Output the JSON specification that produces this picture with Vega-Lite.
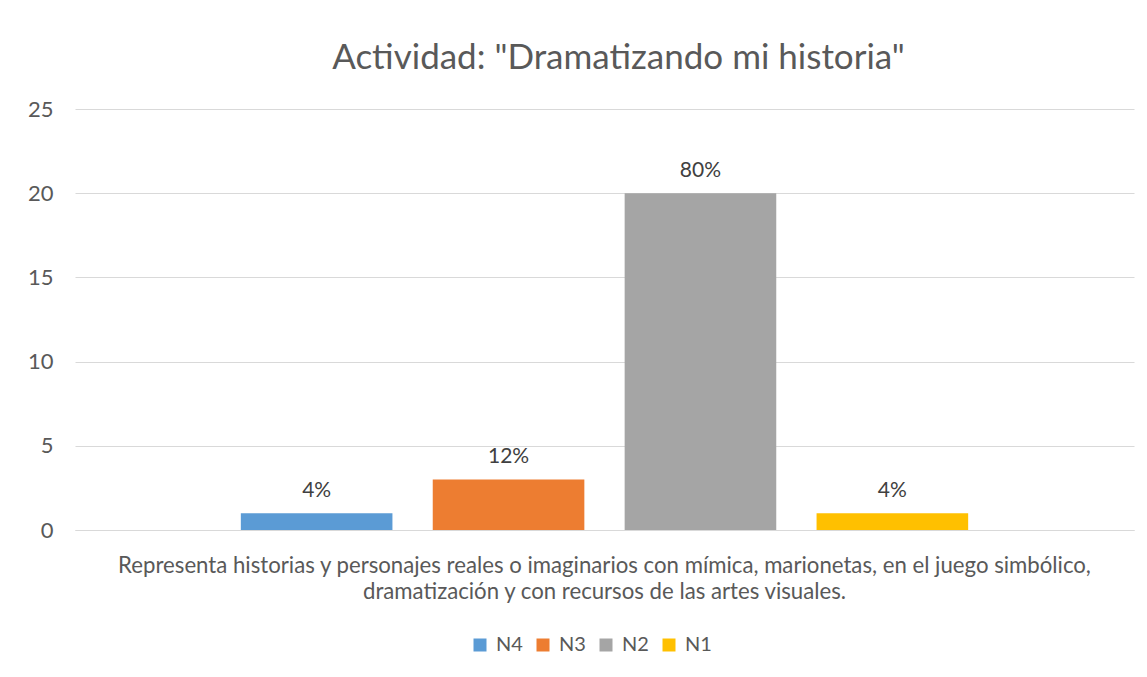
{
  "$schema": "https://vega.github.io/schema/vega-lite/v6.json",
  "autosize": {"type": "none"},
  "width": 1059,
  "height": 421,
  "padding": {"left": 75, "top": 109, "right": 13, "bottom": 147},
  "background": "white",
  "config": {
    "font": "Lato",
    "view": {"stroke": null}
  },
  "title": {
    "text": "Actividad: \"Dramatizando mi historia\"",
    "fontSize": 35,
    "font": "Lato",
    "fontWeight": "normal",
    "color": "#595959",
    "anchor": "middle",
    "dx": 14,
    "offset": 22
  },
  "data": {
    "values": [
      {"criterio": "Representa historias y personajes reales o imaginarios con mímica, marionetas, en el juego simbólico,\ndramatización y con recursos de las artes visuales.", "nivel": "N4", "cantidad": 1, "porcentaje": "4%"},
      {"criterio": "Representa historias y personajes reales o imaginarios con mímica, marionetas, en el juego simbólico,\ndramatización y con recursos de las artes visuales.", "nivel": "N3", "cantidad": 3, "porcentaje": "12%"},
      {"criterio": "Representa historias y personajes reales o imaginarios con mímica, marionetas, en el juego simbólico,\ndramatización y con recursos de las artes visuales.", "nivel": "N2", "cantidad": 20, "porcentaje": "80%"},
      {"criterio": "Representa historias y personajes reales o imaginarios con mímica, marionetas, en el juego simbólico,\ndramatización y con recursos de las artes visuales.", "nivel": "N1", "cantidad": 1, "porcentaje": "4%"}
    ]
  },
  "encoding": {
    "x": {
      "field": "criterio",
      "type": "nominal",
      "scale": {"paddingInner": 0, "paddingOuter": 0.228},
      "axis": {
        "title": null,
        "labelAngle": 0,
        "labelLimit": 0,
        "labelExpr": "split(datum.label, '\\n')",
        "labelFontSize": 22.2,
        "labelColor": "#595959",
        "labelPadding": 24,
        "labelLineHeight": 26,
        "ticks": false,
        "domainColor": "#d9d9d9",
        "domainWidth": 1
      }
    },
    "xOffset": {
      "field": "nivel",
      "type": "nominal",
      "sort": ["N4", "N3", "N2", "N1"],
      "scale": {"paddingInner": 0.21, "paddingOuter": 0}
    },
    "y": {
      "field": "cantidad",
      "type": "quantitative",
      "scale": {"domain": [0, 25]},
      "axis": {
        "title": null,
        "values": [0, 5, 10, 15, 20, 25],
        "labelFontSize": 22,
        "labelColor": "#595959",
        "labelPadding": 22,
        "ticks": false,
        "domain": false,
        "gridColor": "#d9d9d9",
        "gridWidth": 1
      }
    }
  },
  "layer": [
    {
      "mark": {"type": "bar"},
      "encoding": {
        "color": {
          "field": "nivel",
          "type": "nominal",
          "sort": ["N4", "N3", "N2", "N1"],
          "scale": {"domain": ["N4", "N3", "N2", "N1"], "range": ["#5B9BD5", "#ED7D31", "#A5A5A5", "#FFC000"]},
          "legend": {
            "title": null,
            "orient": "none",
            "direction": "horizontal",
            "legendX": 395,
            "legendY": 526,
            "symbolType": "square",
            "symbolSize": 169,
            "symbolStrokeWidth": 0,
            "labelFontSize": 20,
            "labelColor": "#595959",
            "labelOffset": 6,
            "columnPadding": 10
          }
        }
      }
    },
    {
      "mark": {"type": "text", "baseline": "alphabetic", "dy": -16, "fontSize": 21, "color": "#404040"},
      "encoding": {
        "text": {"field": "porcentaje", "type": "nominal"}
      }
    }
  ]
}
